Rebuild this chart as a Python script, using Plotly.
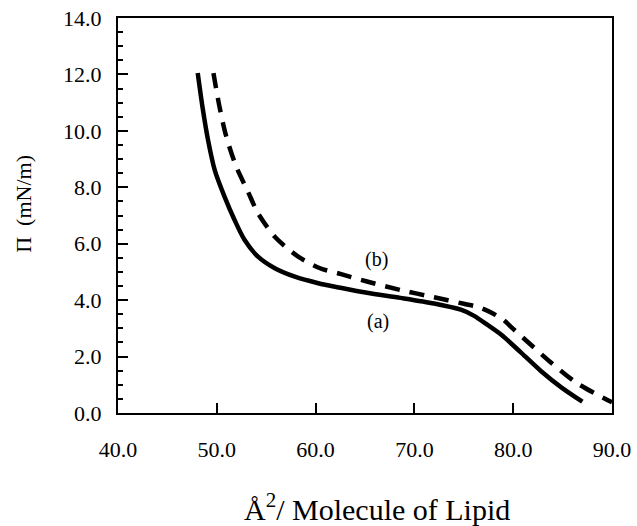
import plotly.graph_objects as go

# Curve (a): solid
area_a = [48.07, 48.55, 49.1, 49.8, 50.78, 51.8, 52.82, 54.17, 55.87, 57.9, 60.27, 62.5, 65.2, 68.6, 72.0, 74.7, 76.0, 77.4, 78.8, 80.8, 82.8, 84.9, 87.0]
pi_a = [12.05, 10.85, 9.7, 8.6, 7.67, 6.84, 6.13, 5.54, 5.13, 4.83, 4.60, 4.44, 4.26, 4.08, 3.88, 3.66, 3.45, 3.12, 2.77, 2.14, 1.49, 0.90, 0.40]

# Curve (b): dashed
area_b = [49.66, 50.27, 50.96, 51.97, 53.15, 54.17, 55.87, 58.24, 60.45, 62.5, 65.2, 68.6, 72.0, 75.0, 76.5, 78.0, 79.0, 80.0, 80.8, 83.85, 86.4, 89.1, 90.0]
pi_b = [12.05, 10.86, 9.8, 8.73, 7.85, 7.08, 6.25, 5.54, 5.13, 4.93, 4.66, 4.36, 4.10, 3.87, 3.75, 3.52, 3.30, 2.98, 2.73, 1.78, 1.07, 0.54, 0.38]

x_ticks = [40, 50, 60, 70, 80, 90]
x_tick_text = ["40.0", "50.0", "60.0", "70.0", "80.0", "90.0"]
y_ticks = [0, 2, 4, 6, 8, 10, 12, 14]
y_tick_text = ["0.0", "2.0", "4.0", "6.0", "8.0", "10.0", "12.0", "14.0"]

label_a = {"x": 66.3, "y": 3.24, "text": "(a)"}
label_b = {"x": 66.2, "y": 5.43, "text": "(b)"}

FONT = "Liberation Serif"

fig = go.Figure()
fig.add_trace(go.Scatter(x=area_a, y=pi_a, mode="lines",
                         line=dict(color="black", width=4.5, shape="spline", smoothing=0.8), showlegend=False))
fig.add_trace(go.Scatter(x=area_b, y=pi_b, mode="lines",
                         line=dict(color="black", width=4.5, dash="15px,10px", shape="spline", smoothing=0.8), showlegend=False))

for lab in (label_a, label_b):
    fig.add_annotation(x=lab["x"], y=lab["y"], text=lab["text"], showarrow=False,
                       font=dict(family=FONT, size=20, color="black"))

fig.add_annotation(xref="paper", yref="paper", x=0.525, y=-0.238, text="Å<sup>2</sup>/ Molecule of Lipid",
                   showarrow=False, font=dict(family=FONT, size=30, color="black"), xanchor="center", yanchor="middle")
fig.add_annotation(xref="paper", yref="paper", x=-0.19, y=0.53, text="Π  (mN/m)", textangle=-90,
                   showarrow=False, font=dict(family=FONT, size=22, color="black"), xanchor="center", yanchor="middle")

fig.update_layout(
    width=637, height=526,
    margin=dict(l=118, r=25, t=18, b=113, autoexpand=False),
    plot_bgcolor="white", paper_bgcolor="white",
    font=dict(family=FONT, color="black"),
)
fig.update_xaxes(range=[40, 90], tickvals=x_ticks, ticktext=x_tick_text, ticks="inside", ticklen=10, tickwidth=2,
                 tickcolor="black", showline=True, linewidth=2, linecolor="black", mirror=True, showgrid=False,
                 zeroline=False, automargin=False, tickfont=dict(family=FONT, size=22, color="black"),
                 ticklabelstandoff=16)
fig.update_yaxes(range=[0, 14], tickvals=y_ticks, ticktext=y_tick_text, ticks="inside", ticklen=10, tickwidth=2,
                 tickcolor="black", showline=True, linewidth=2, linecolor="black", mirror=True, showgrid=False,
                 zeroline=False, automargin=False, tickfont=dict(family=FONT, size=22, color="black"),
                 ticklabelstandoff=10,
                 minor=dict(dtick=0.5, tick0=0, ticks="inside", ticklen=5, tickwidth=2, tickcolor="black",
                            showgrid=False))

fig.write_html("out.html", config={"displayModeBar": False},
               post_script="document.body.style.margin='0';document.body.style.overflow='hidden';")
